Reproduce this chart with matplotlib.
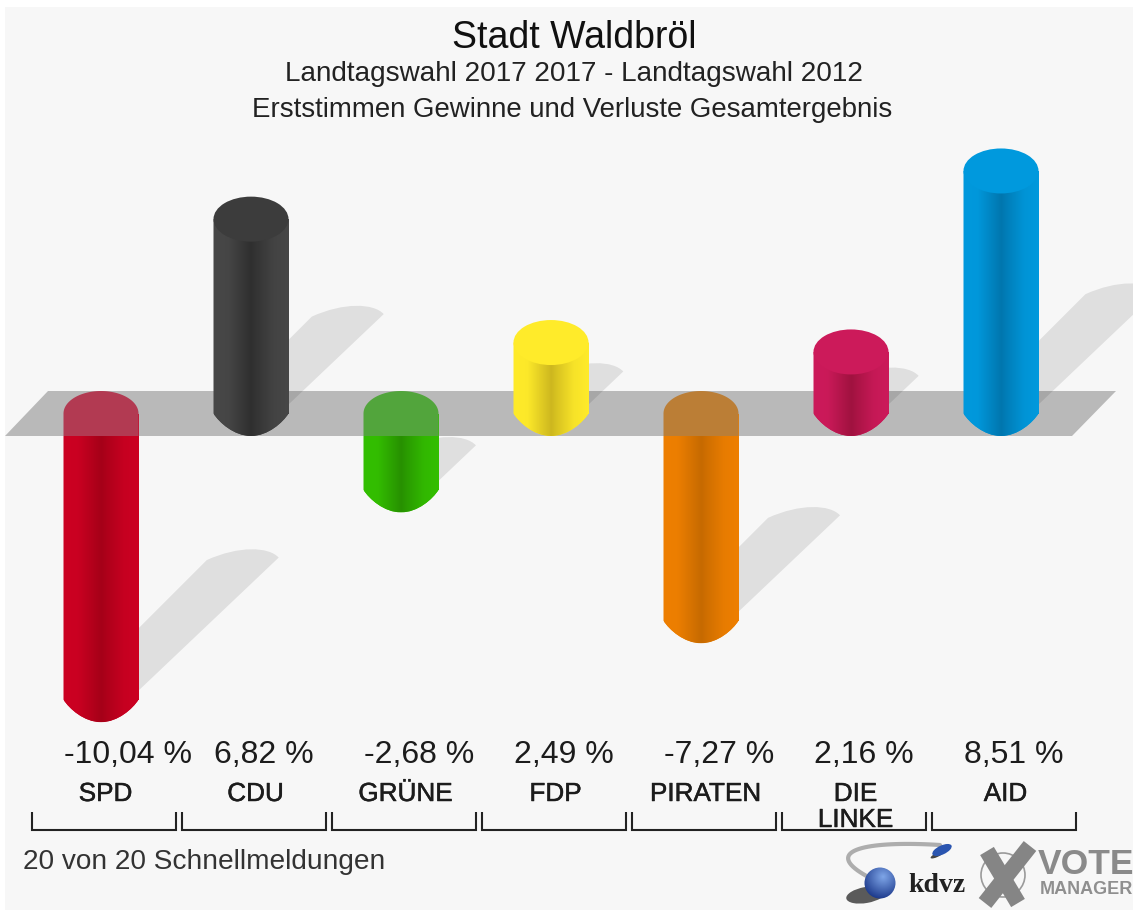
import numpy as np
import matplotlib
matplotlib.use("Agg")
import matplotlib.pyplot as plt
import matplotlib.patheffects as pe
from matplotlib.patches import PathPatch, Ellipse, Polygon, Circle
from matplotlib.path import Path
from matplotlib.colors import to_rgb

plt.rcParams['font.family'] = ['Liberation Sans', 'DejaVu Sans']

# ---- data ----
parties = ["SPD", "CDU", "GRÜNE", "FDP", "PIRATEN", "DIE\nLINKE", "AID"]
values = [-10.04, 6.82, -2.68, 2.49, -7.27, 2.16, 8.51]
value_labels = ["-10,04 %", "6,82 %", "-2,68 %", "2,49 %", "-7,27 %", "2,16 %", "8,51 %"]
title = "Stadt Waldbröl"
subtitle1 = "Landtagswahl 2017 2017 - Landtagswahl 2012"
subtitle2 = "Erststimmen Gewinne und Verluste Gesamtergebnis"
footer = "20 von 20 Schnellmeldungen"

# colours: bright edge, dark centre, cap
bright = ["#CC0022", "#474747", "#33BF00", "#FFEB2A", "#EE7F00", "#CC1A5A", "#0099DD"]
dark = ["#A50018", "#2F2F2F", "#279000", "#CDB71F", "#C66A00", "#A0123F", "#0076AE"]
cap = ["#B23A52", "#3C3C3C", "#52A53C", "#FFEB2A", "#BB7E36", "#CC1A5A", "#0099DD"]

W, H = 1133, 911
PXX, PXY = 150.0, 28.5      # pixels per category / per percent point
X0, Y0 = 101.0, 413.5       # pixel position of category 0 / of value 0
HW = 37.5 / PXX             # half bar width
RY = 22.5 / PXY             # cap radius


def dx(p):
    return p / PXX


def dy(p):
    return p / PXY


fig = plt.figure(figsize=(W / 100, H / 100), dpi=100, facecolor="white")

# decoration axes in pixels
deco = fig.add_axes([0, 0, 1, 1], zorder=3, facecolor="none")
deco.set_xlim(0, W)
deco.set_ylim(H, 0)
deco.axis("off")
back = fig.add_axes([0, 0, 1, 1], zorder=1)
back.set_xlim(0, W)
back.set_ylim(H, 0)
back.axis("off")
back.add_patch(plt.Rectangle((5, 7), W - 5, 903, fc="#F7F7F7", ec="none"))

# data axes
ax = fig.add_axes([0, 0, 1, 1], zorder=2, facecolor="none")
ax.axis("off")
xlim = (-X0 / PXX, (W - X0) / PXX)
ylim = ((Y0 - H) / PXY, Y0 / PXY)
xs = np.arange(len(values))

# band
band = [(dx(5 - X0), -RY), (dx(1072 - X0), -RY), (dx(1116 - X0), RY), (dx(48 - X0), RY)]
ax.add_patch(Polygon(band, closed=True, fc="#B9B9B9", ec="none", zorder=1))

# shadows
for i, v in zip(xs, values):
    h = abs(v) * PXY
    yb = min(v, 0)
    xr = i + HW
    tip = (xr + dx(0.49 * h), yb + dy(9 + 0.465 * h))
    sh = (tip[0] - dx(72), tip[1] - dy(2.5))
    back_x = xr - dx(6)
    start = (back_x, yb + dy(9 - 6 * 0.95))
    upper = (back_x, sh[1] - (sh[0] - back_x) * PXX / PXY)
    verts = [start, tip,
             (tip[0] - dx(10), tip[1] + dy(11)),
             (tip[0] - dx(40), tip[1] + dy(12)),
             sh, upper, start]
    codes = [Path.MOVETO, Path.LINETO, Path.CURVE4, Path.CURVE4, Path.CURVE4,
             Path.LINETO, Path.CLOSEPOLY]
    ax.add_patch(PathPatch(Path(verts, codes), fc="black", alpha=0.095, ec="none", zorder=2))

# bars: the rectangle spans 0..value in data units
bars = ax.bar(xs, values, width=2 * HW, color=bright, linewidth=0, zorder=3)


def gradient(c_edge, c_dark):
    e, d = np.array(to_rgb(c_edge)), np.array(to_rgb(c_dark))
    mid = 0.6 * e + 0.4 * d
    t = np.linspace(0, 1, 128)
    stops = [0, 0.18, 0.5, 0.56, 0.8, 1]
    cols = [e, e * 0.95 + d * 0.05, d, d * 0.8 + e * 0.2, mid * 0.4 + e * 0.6, e]
    return np.stack([np.interp(t, stops, [c[k] for c in cols]) for k in range(3)], axis=-1)[None, :, :]


def body_path(i, top, bot):
    # flat upper edge at `top`, rounded lower end whose shoulder is at `bot`
    l, r = i - HW, i + HW
    verts = [(l, top), (l, bot),
             (i - HW * 0.85, bot - RY * 0.4), (i - HW * 0.45, bot - RY), (i, bot - RY),
             (i + HW * 0.45, bot - RY), (i + HW * 0.85, bot - RY * 0.4), (r, bot),
             (r, top), (l, top)]
    codes = [Path.MOVETO, Path.LINETO, Path.CURVE4, Path.CURVE4, Path.CURVE4,
             Path.CURVE4, Path.CURVE4, Path.CURVE4, Path.LINETO, Path.CLOSEPOLY]
    return Path(verts, codes)


for i, v in zip(xs, values):
    if v >= 0:
        top, bot = v, 0.0
    else:
        top, bot = -RY, v
    # background of the rounded end
    p = PathPatch(body_path(i, top, bot), fc=bright[i], ec="none", zorder=3.1)
    ax.add_patch(p)
    im = ax.imshow(gradient(bright[i], dark[i]), extent=(i - HW, i + HW, bot - RY, top),
                   aspect="auto", zorder=3.2, interpolation="bilinear")
    im.set_clip_path(p)
    if v >= 0:
        ax.add_patch(Ellipse((i, v), 2 * HW, 2 * RY, fc=cap[i], ec="none", zorder=3.3))
    else:
        t = np.linspace(np.pi, 0, 60)
        ex = i + HW * np.cos(t)
        ey = RY * np.sin(t)
        pts = np.column_stack([np.r_[ex, i + HW, i - HW], np.r_[ey, -RY, -RY]])
        ax.add_patch(Polygon(pts, closed=True, fc=cap[i], ec="none", zorder=3.3))

ax.set_xlim(*xlim)
ax.set_ylim(*ylim)

# titles
deco.text(574, 38, title, ha="center", va="center", fontsize=27, color="#111111")
deco.text(574, 74, subtitle1, ha="center", va="center", fontsize=20.1, color="#222222")
deco.text(572, 110, subtitle2, ha="center", va="center", fontsize=19.9, color="#222222")

# value labels, party labels, brackets
stroke = [pe.withStroke(linewidth=0.35, foreground="#222222")]
for i, (lab, name) in enumerate(zip(value_labels, parties)):
    left = X0 + PXX * i - 37
    deco.text(left, 755, lab, ha="left", va="center", fontsize=23, color="#1c1c1c")
    cx = X0 + PXX * i + 4.5
    lines = name.split("\n")
    for k, ln in enumerate(lines):
        deco.text(cx, 794 + 26 * k, ln, ha="center", va="center", fontsize=18.8,
                  color="#1c1c1c", path_effects=stroke)
    bl, br = 32 + PXX * i, 176 + PXX * i
    deco.plot([bl, bl, br, br], [812, 829.5, 829.5, 812], color="#222222", lw=1.5,
              solid_joinstyle="miter", solid_capstyle="butt")

deco.text(23, 862, footer, ha="left", va="center", fontsize=20.2, color="#333333")

# --- logos ---
t = np.linspace(0, 1, 40)
swx = 940 - 103 * np.sin(t * np.pi * 0.62) + 26 * t ** 3
swy = 845 - 4 * np.sin(t * np.pi) + 33 * t ** 2
deco.plot(swx, swy, color="#a5a5a5", lw=3, solid_capstyle="round", alpha=0.9)
deco.add_patch(Ellipse((866, 895), 40, 16, angle=-10, fc="#333333", ec="none", alpha=0.8))
grad = np.linspace(0, 1, 64)
gx, gy = np.meshgrid(grad, grad)
rr = np.clip(np.hypot(gx - 0.6, gy - 0.3) / 0.8, 0, 1)
c0, c1 = np.array(to_rgb("#7FA6E8")), np.array(to_rgb("#102C80"))
img = (c0[None, None, :] * (1 - rr[..., None]) + c1[None, None, :] * rr[..., None])
sphere = Circle((880, 883), 15.5, fc="none", ec="none")
deco.add_patch(sphere)
im = deco.imshow(img, extent=(864, 896, 899, 867), aspect="auto", zorder=3)
im.set_clip_path(sphere)
deco.set_xlim(0, W)
deco.set_ylim(H, 0)
deco.add_patch(Ellipse((942, 850), 21, 9, angle=-25, fc="#2A55B0", ec="none", zorder=3))
deco.add_patch(Ellipse((937, 855), 14, 4, angle=-25, fc="#444444", ec="none", zorder=2.9))
deco.text(937, 886, "kdvz", ha="center", va="center", fontsize=20, fontweight="bold",
          family=["Liberation Serif", "DejaVu Serif"], color="#222222")

deco.add_patch(Circle((1003, 875), 22, fc="none", ec="#9a9a9a", lw=1.2))
deco.plot([987, 1018], [851, 903], color="#858585", lw=11.5, solid_capstyle="butt")
deco.plot([1030, 985], [846, 903], color="#858585", lw=11.5, solid_capstyle="butt")
deco.text(1038, 865, "VOTE", ha="left", va="center", fontsize=25.5, fontweight="bold", color="#8a8a8a")
deco.text(1040, 889, "MANAGER", ha="left", va="center", fontsize=13, fontweight="bold", color="#8f8f8f")

fig.savefig("out.png", dpi=100, facecolor="white")
